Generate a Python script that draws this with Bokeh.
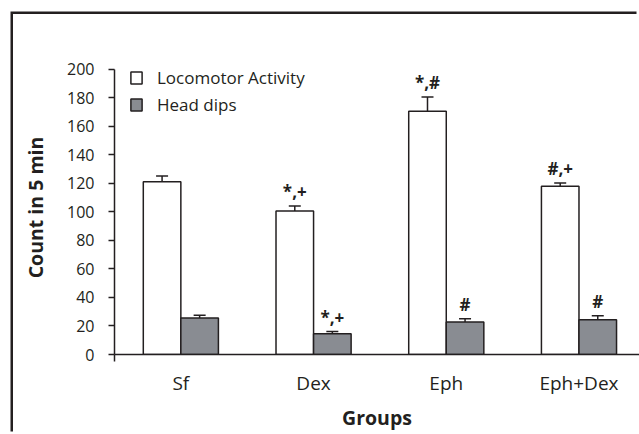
from bokeh.plotting import figure
from bokeh.models import (ColumnDataSource, FixedTicker, Whisker, TeeHead,
                          Legend, LegendItem)
from bokeh.core.properties import value
from bokeh.embed import file_html
from bokeh.resources import INLINE

# ---- data ----
groups = ["Sf", "Dex", "Eph", "Eph+Dex"]
locomotor = [121, 100.6, 170.5, 117.9]
locomotor_err = [4, 3.5, 10, 2.3]
head_dips = [25.5, 14.5, 22.7, 24.3]
head_dips_err = [2, 1.6, 2.3, 2.9]
locomotor_marks = ["", "*,+", "*,#", "#,+"]
head_dips_marks = ["", "*,+", "#", "#"]
y_ticks = list(range(0, 201, 20))

INK = "#231f20"
GRAY = "#898c92"
FONT = "Open Sans"

bw = 0.283
xs = list(range(len(groups)))
x_loc = [x - bw / 2 for x in xs]
x_head = [x + bw / 2 for x in xs]

src_l = ColumnDataSource(dict(x=x_loc, top=locomotor,
                              up=[m + e for m, e in zip(locomotor, locomotor_err)],
                              mark=locomotor_marks))
src_h = ColumnDataSource(dict(x=x_head, top=head_dips,
                              up=[m + e for m, e in zip(head_dips, head_dips_err)],
                              mark=head_dips_marks))

p = figure(width=626, height=420, output_backend="svg", toolbar_location=None,
           x_range=(-0.5, 3.456), y_range=(0, 206),
           min_border_left=101, min_border_right=0, min_border_top=46,
           min_border_bottom=80,
           styles={"margin-left": "13px", "margin-top": "14px",
                   "box-shadow": "-2.5px -2.5px 0px 0px #231f20"})
p.outline_line_color = None
p.xgrid.grid_line_color = None
p.ygrid.grid_line_color = None
p.background_fill_color = "white"
p.border_fill_color = "white"

r_l = p.vbar(x="x", top="top", bottom=0, width=bw, source=src_l,
             fill_color="white", line_color=INK, line_width=1.5)
r_h = p.vbar(x="x", top="top", bottom=0, width=bw, source=src_h,
             fill_color=GRAY, line_color=INK, line_width=1.5)

for src in (src_l, src_h):
    w = Whisker(source=src, base="x", lower="top", upper="up",
                dimension="height", line_color=INK, line_width=1.5,
                upper_head=TeeHead(size=12, line_color=INK, line_width=1.5),
                lower_head=None)
    p.add_layout(w)
    p.text(x="x", y="up", text="mark", source=src, text_align="center",
           text_baseline="alphabetic", y_offset=-14,
           text_font=value(FONT), text_font_style="bold",
           text_font_size="17px", text_color=INK)

# axes
p.yaxis.ticker = FixedTicker(ticks=y_ticks)
p.yaxis.bounds = (0, 200)
p.yaxis.major_tick_in = 0
p.yaxis.major_tick_out = 6
p.yaxis.minor_tick_line_color = None
p.yaxis.major_label_standoff = 14
p.yaxis.major_label_text_font = FONT
p.yaxis.major_label_text_font_size = "16px"
p.yaxis.major_label_text_color = INK
p.yaxis.axis_label = "Count in 5 min"
p.yaxis.axis_label_text_font = FONT
p.yaxis.axis_label_text_font_style = "bold"
p.yaxis.axis_label_text_font_size = "19.5px"
p.yaxis.axis_label_text_color = INK
p.yaxis.axis_label_standoff = 15

p.xaxis.ticker = FixedTicker(ticks=xs, minor_ticks=[-0.5])
p.xaxis.major_label_overrides = {i: g for i, g in enumerate(groups)}
p.xaxis.major_tick_in = 0
p.xaxis.major_tick_out = 0
p.xaxis.minor_tick_in = 0
p.xaxis.minor_tick_out = 7
p.xaxis.minor_tick_line_color = INK
p.xaxis.minor_tick_line_width = 1.5
p.xaxis.major_label_standoff = 8
p.xaxis.major_label_text_font = FONT
p.xaxis.major_label_text_font_size = "19px"
p.xaxis.major_label_text_color = INK
p.xaxis.axis_label = "Groups"
p.xaxis.axis_label_text_font = FONT
p.xaxis.axis_label_text_font_style = "bold"
p.xaxis.axis_label_text_font_size = "19.5px"
p.xaxis.axis_label_text_color = INK
p.xaxis.axis_label_standoff = 5

for ax in (p.xaxis, p.yaxis):
    ax.axis_line_color = INK
    ax.axis_line_width = 1.5
    ax.major_tick_line_color = INK
    ax.major_tick_line_width = 1.5

legend = Legend(items=[LegendItem(label="Locomotor Activity", renderers=[r_l]),
                       LegendItem(label="Head dips", renderers=[r_h])],
                location=(15, 236), margin=0, padding=0,
                glyph_width=14, glyph_height=15, label_standoff=14,
                label_height=27, spacing=0,
                label_text_font=FONT, label_text_font_size="17px",
                label_text_color=INK, border_line_color=None,
                background_fill_alpha=0)
p.add_layout(legend)

open("out.html", "w").write(file_html(p, INLINE))
